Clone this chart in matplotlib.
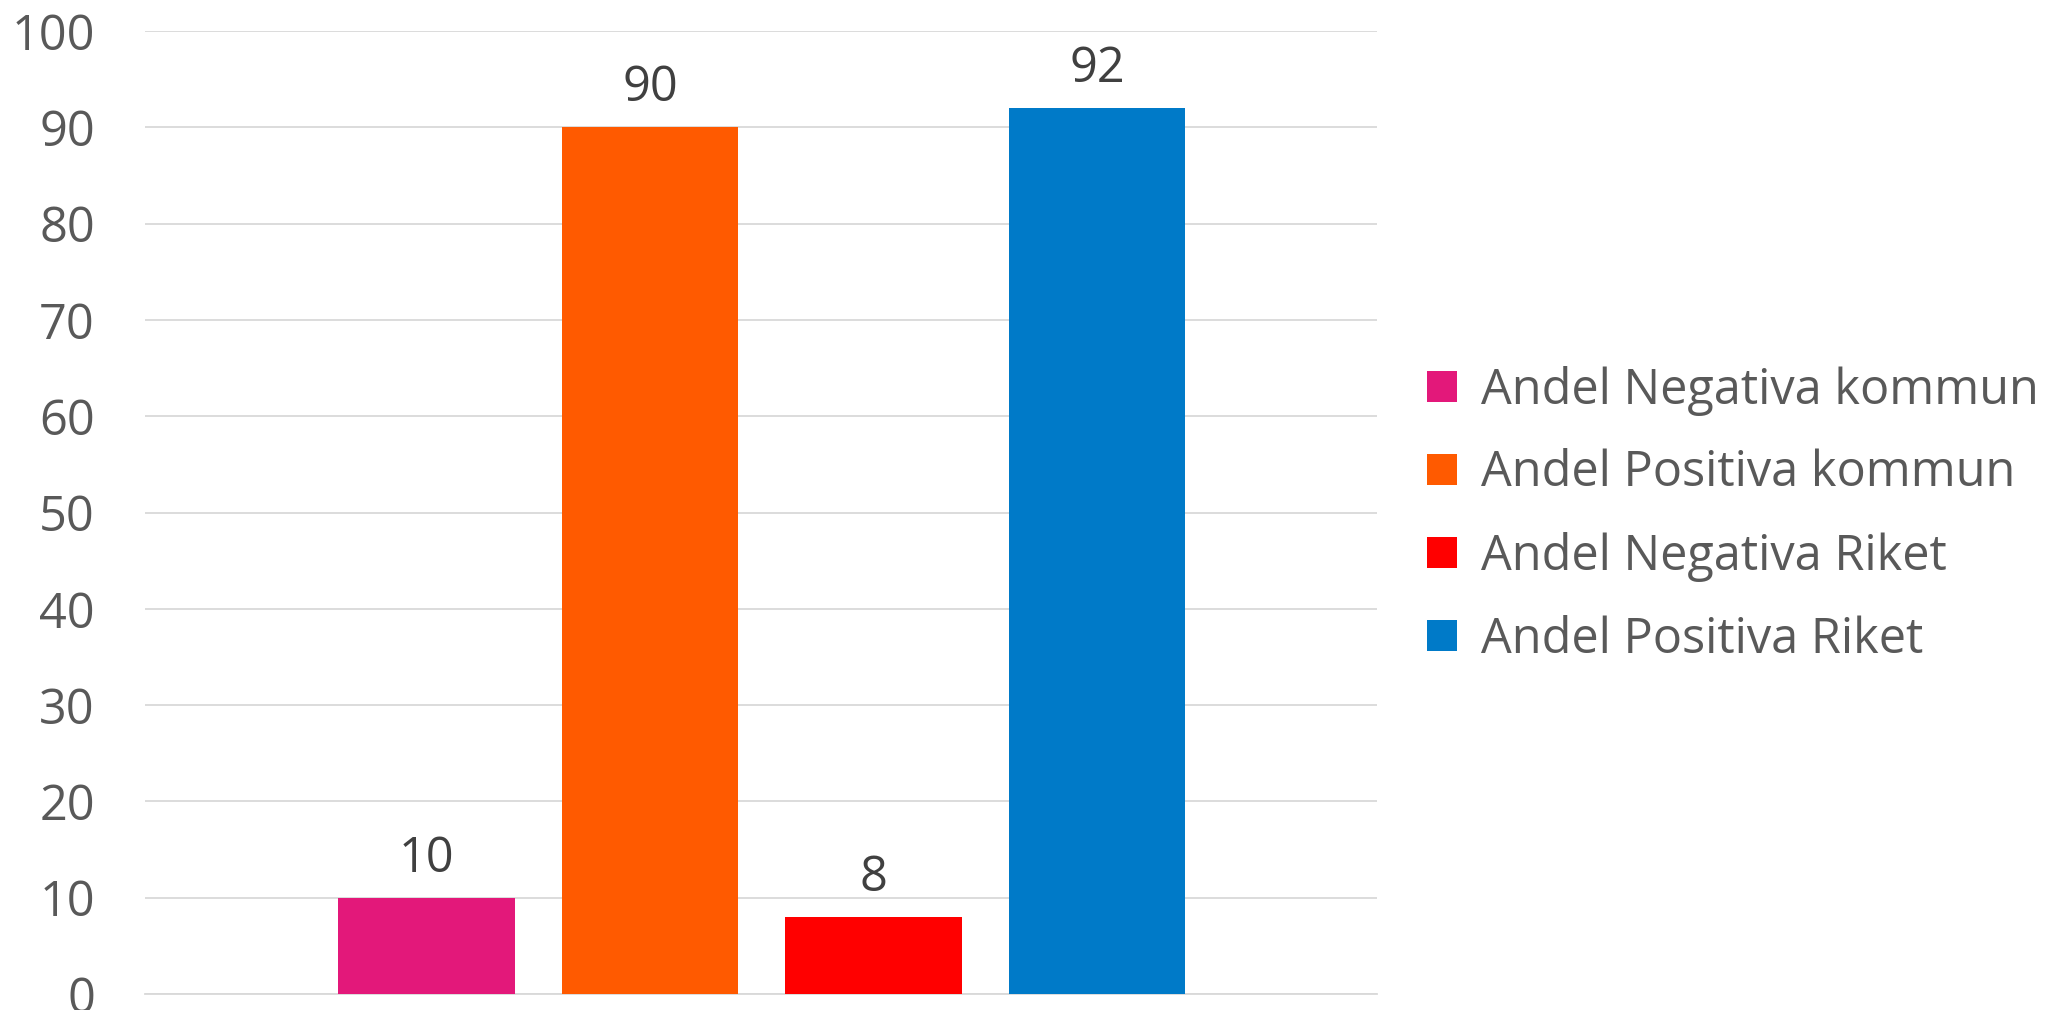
import matplotlib.pyplot as plt
import numpy as np

plt.rcParams['font.family'] = ['Open Sans', 'DejaVu Sans']

series = ["Andel Negativa kommun", "Andel Positiva kommun", "Andel Negativa Riket", "Andel Positiva Riket"]
values = [10, 90, 8, 92]
colors = ["#E3187A", "#FF5A00", "#FF0000", "#007AC8"]
yticks = [0, 10, 20, 30, 40, 50, 60, 70, 80, 90, 100]


def main():
    fig = plt.figure(figsize=(20.56, 10.10), dpi=100)
    ax = fig.add_axes([0.0705, 0.0158, 0.5993, 0.9535])

    x = np.arange(len(values))
    bars = ax.bar(x, values, width=0.79, color=colors, label=series, zorder=3)

    for xi, v in zip(x, values):
        ax.annotate(str(v), (xi, v), xytext=(0, 10), textcoords="offset points",
                    ha="center", va="bottom", fontsize=35, color="#404040")

    ax.set_xlim(-1.26, 3 + 1.253)
    ax.set_ylim(0, 100)
    ax.set_yticks(yticks)
    ax.set_xticks([])
    ax.tick_params(axis="y", length=0, pad=36, labelsize=35, labelcolor="#595959")
    ax.yaxis.grid(True, color="#D9D9D9", linewidth=1.3, zorder=0)
    for s in ["top", "right", "left"]:
        ax.spines[s].set_visible(False)
    ax.spines["bottom"].set_color("#D9D9D9")
    ax.spines["bottom"].set_linewidth(1.3)

    leg = fig.legend(handles=list(bars), labels=series, loc="center left",
                     bbox_to_anchor=(0.6943, 0.49), bbox_transform=fig.transFigure,
                     frameon=False, fontsize=35, handlelength=0.6, handleheight=0.6,
                     handletextpad=0.5, labelspacing=0.685, borderpad=0, borderaxespad=0)
    for t in leg.get_texts():
        t.set_color("#595959")

    fig.savefig("out.png", dpi=100)


if __name__ == "__main__":
    main()
